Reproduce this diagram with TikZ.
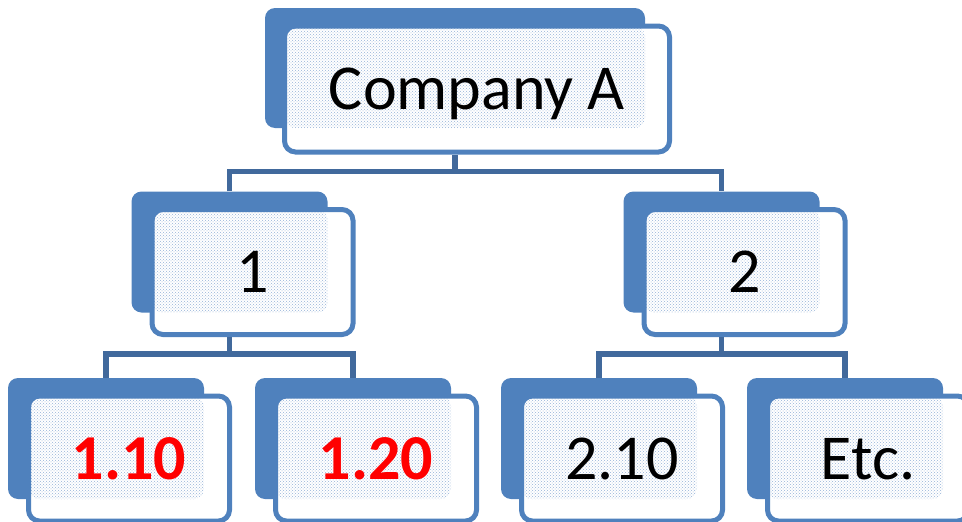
\documentclass[tikz,border=0pt]{standalone}
\usepackage{fontspec}
\setmainfont{Carlito}
\usetikzlibrary{patterns}
\definecolor{boxblue}{HTML}{4F81BD}
\definecolor{linkblue}{HTML}{41699C}
\begin{document}
\begin{tikzpicture}[x=1pt,y=-1pt,
  front/.style={rectangle,rounded corners=11pt,inner sep=0pt,
    minimum width=201pt,minimum height=125pt,text height=41pt,text depth=0pt,
    font=\fontsize{64}{70}\selectfont,
    preaction={fill=white,path picture={\fill[pattern=crosshatch dots,pattern color=boxblue!60]
      (path picture bounding box.north west) rectangle (#1.south east);}},
    draw=boxblue,line width=5pt}]
  \tikzstyle{back}=[rectangle,rounded corners=10pt,fill=boxblue,inner sep=0pt,minimum width=196pt,minimum height=121pt]
  \tikzstyle{link}=[draw=linkblue,line width=5.5pt]
  \tikzstyle{red}=[text=red,font=\fontsize{64}{70}\selectfont\bfseries]
  \useasboundingbox (0,0) rectangle (962,522);
  \clip (0,0) rectangle (962,522);

  \node[back,minimum width=380pt,minimum height=120pt] (B_0) at (455,68) {};
  \node[front=B_0,minimum width=385pt,minimum height=126pt] (L_0) at (477,89) {Company A};

  \node[back] (B_1) at (229.5,252) {};
  \node[front=B_1] (L_1) at (252.5,272) {1};
  \node[back] (B_2) at (721.5,252) {};
  \node[front=B_2] (L_2) at (744.5,272) {2};

  \node[back] (B_11) at (106,438.5) {};
  \node[front=B_11,red] (L_11) at (129,458.5) {1.10};
  \node[back] (B_12) at (353,438.5) {};
  \node[front=B_12,red] (L_12) at (376,458.5) {1.20};
  \node[back] (B_21) at (599,438.5) {};
  \node[front=B_21] (L_21) at (622,458.5) {2.10};
  \node[back] (B_22) at (845,438.5) {};
  \node[front=B_22] (L_22) at (868,458.5) {Etc.};

  \draw[link] (B_0.south |- L_0.south) -- ++(0,17) coordinate (J_0);
  \draw[link] (B_1.north) |- (J_0) -| (B_2.north);

  \draw[link] (B_1.south |- L_1.south) -- ++(0,17) coordinate (J_1);
  \draw[link] (B_11.north) |- (J_1) -| (B_12.north);

  \draw[link] (B_2.south |- L_2.south) -- ++(0,17) coordinate (J_2);
  \draw[link] (B_21.north) |- (J_2) -| (B_22.north);

\end{tikzpicture}
\end{document}
